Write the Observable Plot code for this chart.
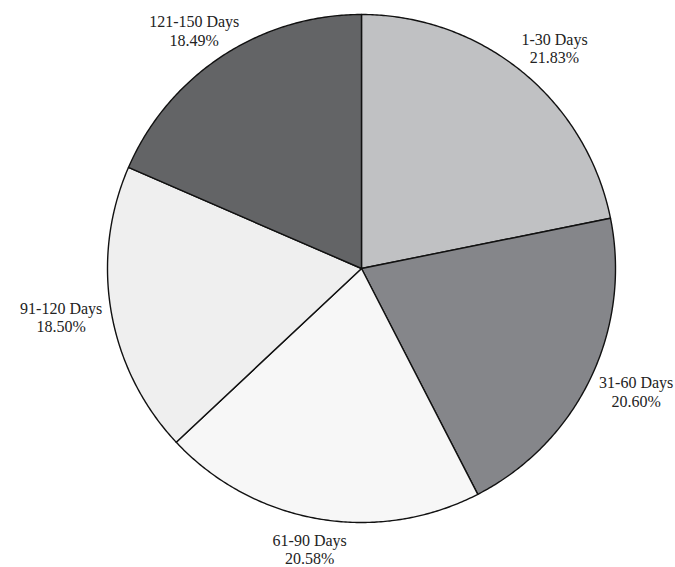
<!DOCTYPE html>
<html>
<head>
<meta charset="utf-8">
<script src="https://cdn.jsdelivr.net/npm/d3@7"></script>
<script src="https://cdn.jsdelivr.net/npm/@observablehq/plot@0.6"></script>
<style>
  html, body { margin: 0; padding: 0; background: #fff; }
</style>
</head>
<body>
<div id="chart"></div>
<script>
const categories = ["1-30 Days", "31-60 Days", "61-90 Days", "91-120 Days", "121-150 Days"];
const percents = [21.83, 20.60, 20.58, 18.50, 18.49];
const labels = ["21.83%", "20.60%", "20.58%", "18.50%", "18.49%"];
const colors = ["#c0c1c3", "#85868a", "#f7f7f7", "#efefef", "#636466"];

const total = d3.sum(percents);
let acc = 0;
const slices = categories.map((c, i) => {
  const a0 = acc / total * 2 * Math.PI;
  acc += percents[i];
  const a1 = acc / total * 2 * Math.PI;
  return {cat: c, a0, a1, mid: (a0 + a1) / 2, color: colors[i], label: c + "\n" + labels[i]};
});

const poly = [];
slices.forEach(s => {
  poly.push({cat: s.cat, color: s.color, x: 0, y: 0});
  const n = Math.max(2, Math.ceil((s.a1 - s.a0) / (Math.PI / 360)));
  for (let k = 0; k <= n; k++) {
    const a = s.a0 + (s.a1 - s.a0) * k / n;
    poly.push({cat: s.cat, color: s.color, x: Math.sin(a), y: Math.cos(a)});
  }
});

const cx = 361, cy = 268, R = 254;
const lrx = 1.20, lry = 1.12;

const plot = Plot.plot({
  width: 675,
  height: 567,
  margin: 0,
  x: {domain: [-1, 1], range: [cx - R, cx + R], axis: null},
  y: {domain: [-1, 1], range: [cy + R, cy - R], axis: null},
  color: {type: "identity"},
  marks: [
    Plot.line(poly, {x: "x", y: "y", z: "cat", fill: "color", stroke: "#111", strokeWidth: 1.4, curve: "linear-closed", strokeLinejoin: "round"}),
    Plot.text(slices, {
      x: d => lrx * Math.sin(d.mid),
      y: d => lry * Math.cos(d.mid),
      text: "label",
      fontSize: 16,
      fontFamily: "Liberation Serif",
      fill: "#222",
      lineHeight: 1.15,
      textAnchor: "middle"
    })
  ]
});
document.getElementById("chart").appendChild(plot);
</script>
</body>
</html>
